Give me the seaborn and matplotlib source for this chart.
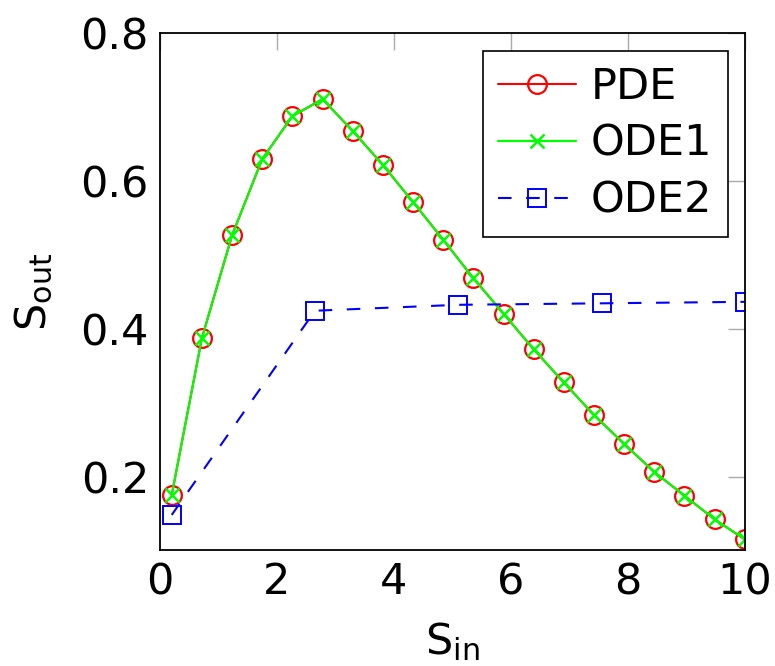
import numpy as np
import pandas as pd
import matplotlib
matplotlib.use("Agg")
import matplotlib.pyplot as plt
import seaborn as sns

# data
s_in_pde = [0.2, 0.716, 1.232, 1.747, 2.263, 2.779, 3.295, 3.811, 4.326, 4.842,
            5.358, 5.874, 6.389, 6.905, 7.421, 7.937, 8.453, 8.968, 9.484, 10.0]
s_out_pde = [0.176, 0.388, 0.527, 0.630, 0.688, 0.711, 0.668, 0.622, 0.572, 0.521,
             0.469, 0.421, 0.373, 0.328, 0.284, 0.245, 0.207, 0.175, 0.143, 0.116]
s_in_ode1 = s_in_pde
s_out_ode1 = s_out_pde
s_in_ode2 = [0.2, 2.65, 5.1, 7.55, 10.0]
s_out_ode2 = [0.149, 0.425, 0.433, 0.435, 0.437]

sns.set_style("white")
plt.rcParams['font.family'] = ['DejaVu Sans']
plt.rcParams['mathtext.fontset'] = 'dejavusans'
plt.rcParams['text.color'] = 'black'
plt.rcParams['axes.labelcolor'] = 'black'
plt.rcParams['xtick.labelcolor'] = 'black'
plt.rcParams['ytick.labelcolor'] = 'black'

fig, ax = plt.subplots(figsize=(7.75, 6.66), dpi=100)
fig.subplots_adjust(left=0.2065, right=0.961, top=0.950, bottom=0.174)

sns.lineplot(x=s_in_pde, y=s_out_pde, ax=ax, color='red', lw=1.5,
             marker='o', ms=13.5, mfc='none', mec='red', mew=1.6, label='PDE')
sns.lineplot(x=s_in_ode1, y=s_out_ode1, ax=ax, color='lime', lw=1.6,
             marker='x', ms=10, mec='lime', mew=1.8, label='ODE1')
sns.lineplot(x=s_in_ode2, y=s_out_ode2, ax=ax, color='blue', lw=1.5,
             linestyle=(0, (6.5, 7)), marker='s', ms=13, mfc='none', mec='blue',
             mew=1.4, label='ODE2')

ax.set_xlim(0, 10)
ax.set_ylim(0.1014, 0.8)
ax.set_xticks([0, 2, 4, 6, 8, 10])
ax.set_yticks([0.2, 0.4, 0.6, 0.8])
ax.set_yticklabels(['0.2', '0.4', '0.6', '0.8'])
ax.tick_params(axis='both', direction='in', length=12, width=1, color='#aaaaaa',
               labelsize=31, top=True, right=True, pad=8)
for sp in ax.spines.values():
    sp.set_color('black')
    sp.set_linewidth(1.3)

ax.set_xlabel(r'S$_\mathregular{in}$', fontsize=31, labelpad=12)
ax.set_ylabel(r'S$_\mathregular{out}$', fontsize=31, labelpad=18)

leg = ax.legend(loc='upper right', fontsize=31, frameon=True, fancybox=False,
                edgecolor='black', framealpha=1, borderaxespad=0.4,
                handlelength=1.8, handletextpad=0.35, labelspacing=0.35,
                borderpad=0.35)
leg.get_frame().set_linewidth(1.2)

fig.savefig('out.png', dpi=100)
